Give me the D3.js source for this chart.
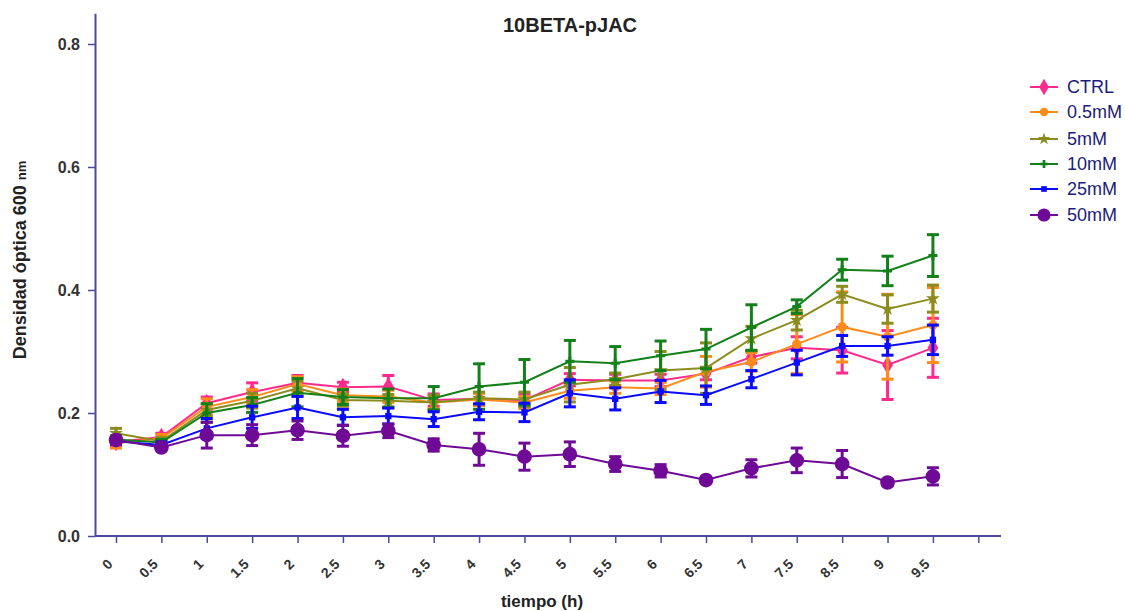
<!DOCTYPE html>
<html><head><meta charset="utf-8">
<script src="https://cdn.jsdelivr.net/npm/d3@7/dist/d3.min.js"></script>
<style>body{margin:0;background:#fff;font-family:Arial,"Liberation Sans",sans-serif}</style>
</head><body><svg id="c" width="1125" height="611"></svg>
<script>
const categories = ["0","0.5","1","1.5","2","2.5","3","3.5","4","4.5","5","5.5","6","6.5","7","7.5","8.5","9","9.5",""];
const yTicks = [0, 0.2, 0.4, 0.6, 0.8];
const seriesNames = ["CTRL","0.5mM","5mM","10mM","25mM","50mM"];
const ctrl    = [0.153,0.161,0.216,0.234,0.249,0.242,0.243,0.221,0.223,0.221,0.254,0.253,0.253,0.264,0.291,0.306,0.302,0.278,0.306];
const ctrlErr = [0.008,0.006,0.010,0.015,0.012,0.008,0.018,0.010,0.010,0.010,0.010,0.010,0.010,0.010,0.010,0.018,0.037,0.056,0.048];
const mM05    = [0.151,0.159,0.210,0.226,0.247,0.229,0.227,0.217,0.222,0.217,0.236,0.242,0.240,0.267,0.283,0.312,0.340,0.324,0.343];
const mM05Err = [0.008,0.006,0.013,0.012,0.012,0.010,0.010,0.010,0.010,0.010,0.012,0.010,0.010,0.025,0.015,0.048,0.057,0.069,0.061];
const mM5     = [0.167,0.154,0.205,0.220,0.240,0.221,0.220,0.217,0.224,0.222,0.246,0.255,0.269,0.273,0.321,0.351,0.393,0.369,0.386];
const mM5Err  = [0.008,0.006,0.010,0.012,0.012,0.010,0.010,0.012,0.010,0.012,0.028,0.010,0.031,0.041,0.020,0.016,0.013,0.023,0.022];
const mM10    = [0.157,0.152,0.200,0.213,0.233,0.226,0.224,0.224,0.243,0.250,0.284,0.281,0.293,0.304,0.339,0.373,0.433,0.431,0.456];
const mM10Err = [0.006,0.005,0.015,0.012,0.023,0.012,0.015,0.019,0.037,0.037,0.034,0.027,0.024,0.032,0.037,0.011,0.017,0.024,0.034];
const mM25    = [0.154,0.148,0.175,0.193,0.209,0.193,0.195,0.190,0.202,0.201,0.232,0.223,0.235,0.229,0.255,0.282,0.309,0.309,0.319];
const mM25Err = [0.005,0.005,0.016,0.018,0.018,0.013,0.013,0.012,0.013,0.015,0.022,0.018,0.018,0.015,0.014,0.020,0.017,0.015,0.024];
const mM50    = [0.156,0.144,0.164,0.164,0.172,0.163,0.171,0.148,0.141,0.129,0.133,0.117,0.106,0.091,0.110,0.123,0.117,0.087,0.097];
const mM50Err = [0.005,0.004,0.021,0.017,0.015,0.017,0.011,0.010,0.026,0.022,0.020,0.012,0.010,0.004,0.014,0.020,0.022,0.005,0.014];
const colors  = ["#ff2a8c","#ff8c1a","#8c8c1e","#13801a","#0a0aff","#6e0a96"];
const symbols = [d3.symbolDiamond, d3.symbolCircle, d3.symbolStar, d3.symbolCross, d3.symbolSquare, d3.symbolCircle];
const symSizes = [100, 70, 60, 45, 40, 170];

const values = [ctrl, mM05, mM5, mM10, mM25, mM50];
const errs = [ctrlErr, mM05Err, mM5Err, mM10Err, mM25Err, mM50Err];

const svg = d3.select("#c");
const FF = "Arial, 'Liberation Sans', sans-serif";
const axisColor = "#4b4b9a";
const x = d3.scalePoint().domain(categories).range([93.3, 1001]).padding(0.5);
const y = d3.scaleLinear().domain([0, 0.85]).range([536, 13.25]);

// axes
const ya = svg.append("g").attr("transform","translate(95,0)")
  .call(d3.axisLeft(y).tickValues(yTicks).tickFormat(d3.format(".1f")).tickSize(7).tickSizeOuter(0));
ya.select(".domain").attr("stroke",axisColor).attr("stroke-width",2);
ya.selectAll(".tick line").attr("stroke",axisColor).attr("stroke-width",1.5);
ya.selectAll(".tick text").attr("fill","#333").attr("font-size",16).attr("font-weight","bold").attr("x",-15)
  .attr("font-family",FF);

const xa = svg.append("g").attr("transform","translate(0,536)")
  .call(d3.axisBottom(x).tickSize(7).tickSizeOuter(0));
xa.select(".domain").attr("stroke",axisColor).attr("stroke-width",2).attr("d","M95,0H1001");
xa.selectAll(".tick line").attr("stroke",axisColor).attr("stroke-width",1.5);
xa.selectAll(".tick text").attr("fill","#333").attr("font-size",14).attr("font-weight","bold")
  .attr("font-family",FF)
  .attr("text-anchor","end").attr("dy",0).attr("y",0)
  .attr("transform","translate(-3,29) rotate(-45)");

// title & labels
svg.append("text").attr("x",570).attr("y",32).attr("text-anchor","middle").attr("font-family",FF)
  .attr("font-size",20).attr("font-weight","bold").attr("fill","#222").text("10BETA-pJAC");
svg.append("text").attr("x",542).attr("y",607).attr("text-anchor","middle").attr("font-family",FF)
  .attr("font-size",17).attr("font-weight","bold").attr("fill","#222").text("tiempo (h)");
const yl = svg.append("text").attr("transform","translate(26,260) rotate(-90)").attr("text-anchor","middle")
  .attr("font-family",FF).attr("font-size",18).attr("font-weight","bold").attr("fill","#222");
yl.append("tspan").text("Densidad óptica 600 ");
yl.append("tspan").attr("font-size",13).text("nm");

// series
const line = d3.line().x((d,i)=>x(categories[i])).y(d=>y(d));
values.forEach((vals, s) => {
  const g = svg.append("g");
  const c = colors[s];
  vals.forEach((v,i) => {
    const cx = x(categories[i]), e = errs[s][i];
    g.append("line").attr("x1",cx).attr("x2",cx).attr("y1",y(v-e)).attr("y2",y(v+e)).attr("stroke",c).attr("stroke-width",3);
    [v-e, v+e].forEach(w => g.append("line").attr("x1",cx-6).attr("x2",cx+6).attr("y1",y(w)).attr("y2",y(w)).attr("stroke",c).attr("stroke-width",3));
  });
  g.append("path").datum(vals).attr("d",line).attr("fill","none").attr("stroke",c).attr("stroke-width",2);
  g.selectAll("path.m").data(vals).join("path").attr("class","m")
    .attr("transform",(d,i)=>`translate(${x(categories[i])},${y(d)})`)
    .attr("d",d3.symbol().type(symbols[s]).size(symSizes[s])).attr("fill",c);
});

// legend
const legY = [87, 112, 139, 164, 189, 215];
seriesNames.forEach((n,s) => {
  const g = svg.append("g").attr("transform",`translate(1030,${legY[s]})`);
  g.append("line").attr("x1",0).attr("x2",28).attr("stroke",colors[s]).attr("stroke-width",2);
  g.append("path").attr("transform","translate(14,0)").attr("d",d3.symbol().type(symbols[s]).size(symSizes[s]*0.8)).attr("fill",colors[s]);
  g.append("text").attr("x",37).attr("y",6).attr("font-family",FF).attr("font-size",18).attr("fill","#1c1c7a").text(n);
});
</script></body></html>
